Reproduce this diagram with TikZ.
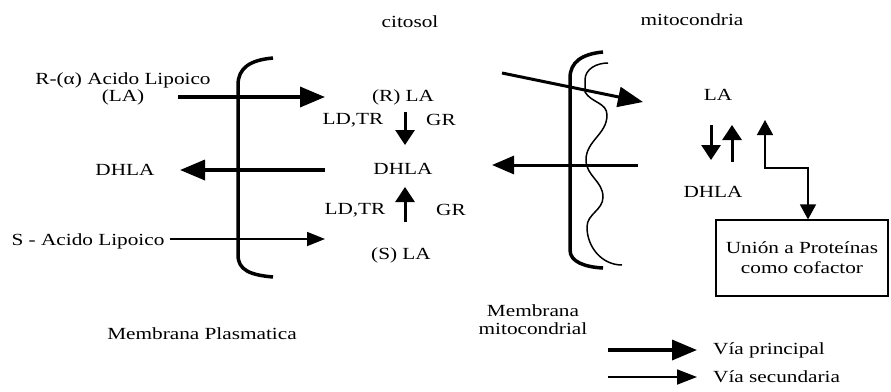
\documentclass[tikz,border=0pt]{standalone}
\usepackage{fontspec}
\setmainfont{Liberation Serif}[FakeStretch=1.25]
\usetikzlibrary{arrows.meta}

\begin{document}
\begin{tikzpicture}[
  x=1pt, y=-1pt,
  every node/.style={font=\fontsize{17}{15}\selectfont, inner sep=0pt},
  tag/.style={align=center},
  mainpath/.style={line width=3.5pt, -{Triangle[length=25pt, width=20pt]}},
  sidepath/.style={line width=1.8pt, -{Triangle[length=18pt, width=14pt]}},
  stepline/.style={line width=3pt, -{Triangle[length=15pt, width=19pt]}},
  membrane/.style={line width=3.5pt},
  innermembrane/.style={line width=1.5pt},
  protbox/.style={draw, line width=1.2pt, minimum width=172pt, minimum height=76pt, align=center,
    font=\fontsize{17}{20}\selectfont},
]
  \useasboundingbox (0,0) rectangle (891,391);

  \node (citosol) at (410, 22) {citosol};
  \node (mito) at (692, 20) {mitocondria};

  \node[tag] (racid) at (123, 89) {R-(α) Acido Lipoico\\(LA)};
  \node (dhlaout) at (125, 170) {DHLA};
  \node (sacid) at (88, 241) {S - Acido Lipoico};

  \node (rla) at (403, 97) {(R) LA};
  \node (ldtr1) at (353, 120) {LD,TR};
  \node (gr1) at (441, 120) {GR};
  \node (dhla) at (403, 169) {DHLA};
  \node (ldtr2) at (355, 210) {LD,TR};
  \node (gr2) at (451, 210) {GR};
  \node (sla) at (401, 255) {(S) LA};

  \node (mla) at (718, 95) {LA};
  \node (mdhla) at (713, 192) {DHLA};
  \node[protbox] (prot) at (802, 258) {Unión a Proteínas\\como cofactor};

  \node[tag] (mplas) at (202, 334) {Membrana Plasmatica};
  \node[tag, font=\fontsize{17}{18}\selectfont] (mmito) at (533, 320) {Membrana\\mitocondrial};

  \node[anchor=west] (vprin) at (713, 350) {Vía principal};
  \node[anchor=west] (vsec) at (713, 377) {Vía secundaria};

  % membranes
  \draw[membrane] (273,58) .. controls (250,60) and (238,68) .. (238,85)
    -- (238,255) .. controls (238,270) and (250,275) .. (273,277);
  \draw[membrane] (603,52) .. controls (582,54) and (570,62) .. (570,78)
    -- (570,250) .. controls (570,262) and (585,267) .. (603,268);
  \draw[innermembrane] (608,63) to[out=180,in=90] (585,80) -- (585,92)
    to[out=-60,in=90] (607,115) to[out=-90,in=90] (586,160)
    to[out=-90,in=90] (603,197) to[out=-90,in=90] (587,227)
    to[out=-90,in=180] (622,265);

  \coordinate (rin) at (178, 97);
  \coordinate (rout) at (325, 97);
  \coordinate (din) at (325, 170);
  \coordinate (dout) at (180, 170);
  \coordinate (sin) at (170, 239);
  \coordinate (sout) at (325, 239);
  \coordinate (down1) at (405, 112);
  \coordinate (down2) at (405, 145);
  \coordinate (up1) at (405, 222);
  \coordinate (up2) at (405, 187);
  \coordinate (laout) at (502, 73);
  \coordinate (lain) at (643, 102);
  \coordinate (mdin) at (638, 165);
  \coordinate (mdout) at (492, 165);
  \coordinate (mdown1) at (711, 125);
  \coordinate (mdown2) at (711, 160);
  \coordinate (mup1) at (732, 162);
  \coordinate (mup2) at (732, 125);
  \coordinate (coftip) at (765, 120);
  \coordinate (cofbend) at (808, 168);
  \coordinate (key1a) at (608, 350);
  \coordinate (key1b) at (697, 350);
  \coordinate (key2a) at (608, 377);
  \coordinate (key2b) at (697, 377);

  \draw[mainpath] (rin) -- (rout);
  \draw[mainpath] (din) -- (dout);
  \draw[sidepath] (sin) -- (sout);
  \draw[stepline] (down1) -- (down2);
  \draw[stepline] (up1) -- (up2);

  \draw[mainpath, line width=3pt] (laout) -- (lain);
  \draw[mainpath, line width=3pt, -{Triangle[length=22pt, width=18pt]}] (mdin) -- (mdout);
  \draw[stepline] (mdown1) -- (mdown2);
  \draw[stepline] (mup1) -- (mup2);
  \draw[line width=1.5pt, {Triangle[length=15pt, width=16pt]}-{Triangle[length=15pt, width=16pt]}]
    (coftip) |- (cofbend) -- (cofbend |- prot.north);

  \draw[mainpath] (key1a) -- (key1b);
  \draw[sidepath, -{Triangle[length=20pt, width=15pt]}] (key2a) -- (key2b);
\end{tikzpicture}
\end{document}
